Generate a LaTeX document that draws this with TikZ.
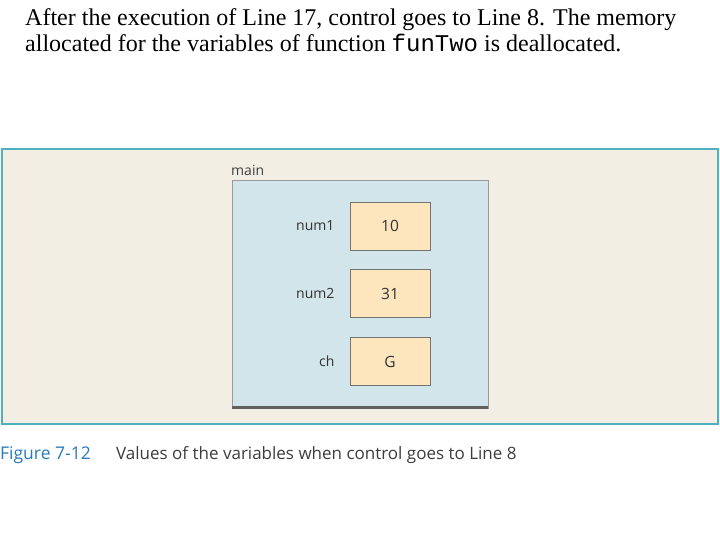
\documentclass[tikz,border=0pt]{standalone}
\usepackage{fontspec}
\setmainfont{Liberation Serif}
\setsansfont{Open Sans}
\setmonofont{Liberation Mono}
\usetikzlibrary{positioning}

\definecolor{panelfill}{RGB}{242,238,227}
\definecolor{panelline}{RGB}{78,176,190}
\definecolor{framefill}{RGB}{210,229,235}
\definecolor{cellfill}{RGB}{253,229,190}
\definecolor{figblue}{RGB}{40,122,184}
\definecolor{captext}{RGB}{60,60,60}

\begin{document}
\begin{tikzpicture}[
    x=1pt, y=-1pt, node distance=19pt,
    frame/.style={draw=gray!80, fill=framefill, line width=0.8pt,
                  minimum width=256pt, minimum height=228pt, inner sep=0pt},
    cell/.style={draw=gray!90!black, fill=cellfill, line width=0.8pt,
                 minimum width=80pt, minimum height=48pt, inner sep=0pt,
                 font=\sffamily\fontsize{15.5}{17}\selectfont, text=black!80},
    varname/.style={font=\sffamily\fontsize{14}{16}\selectfont,
                    text=black!80, anchor=east, inner sep=0pt},
    intro/.style={anchor=base west, inner sep=0pt,
                  font=\fontsize{24}{26}\selectfont}
  ]
  \useasboundingbox (0,0) rectangle (720,540);

  % explanation text
  \node[intro] (line1) at (25,26)
    {After the execution of Line 17, control goes to Line 8. The memory};
  \node[intro] (line2) at (25,52)
    {allocated for the variables of function \texttt{funTwo} is deallocated.};

  % panel
  \draw[panelline, fill=panelfill, line width=2pt] (2,149) rectangle (718,424);

  \node[frame] (main) at (360,294) {};
  \draw[gray!75!black, line width=2.5pt] ([yshift=1pt]main.south west) -- ([yshift=1pt]main.south east);
  \node[anchor=base west, inner sep=0pt, font=\sffamily\fontsize{14}{16}\selectfont,
        text=black!75] (mainlbl) at (231,176) {main};

  \node[cell] (num1) at (390,226) {10};
  \node[cell, below=of num1] (num2) {31};
  \node[cell, below=of num2] (ch) {G};

  \node[varname, left=15pt of num1] (lnum1) {num1};
  \node[varname, left=15pt of num2] (lnum2) {num2};
  \node[varname, left=15pt of ch] (lch) {ch};

  % caption
  \node[anchor=base west, inner sep=0pt, text=figblue,
        font=\sffamily\fontsize{17.5}{20}\selectfont] (fig) at (0,459) {Figure 7-12};
  \node[anchor=base west, inner sep=0pt, text=captext,
        font=\sffamily\fontsize{17}{20}\selectfont] (cap) at (116,459)
    {Values of the variables when control goes to Line 8};
\end{tikzpicture}
\end{document}
